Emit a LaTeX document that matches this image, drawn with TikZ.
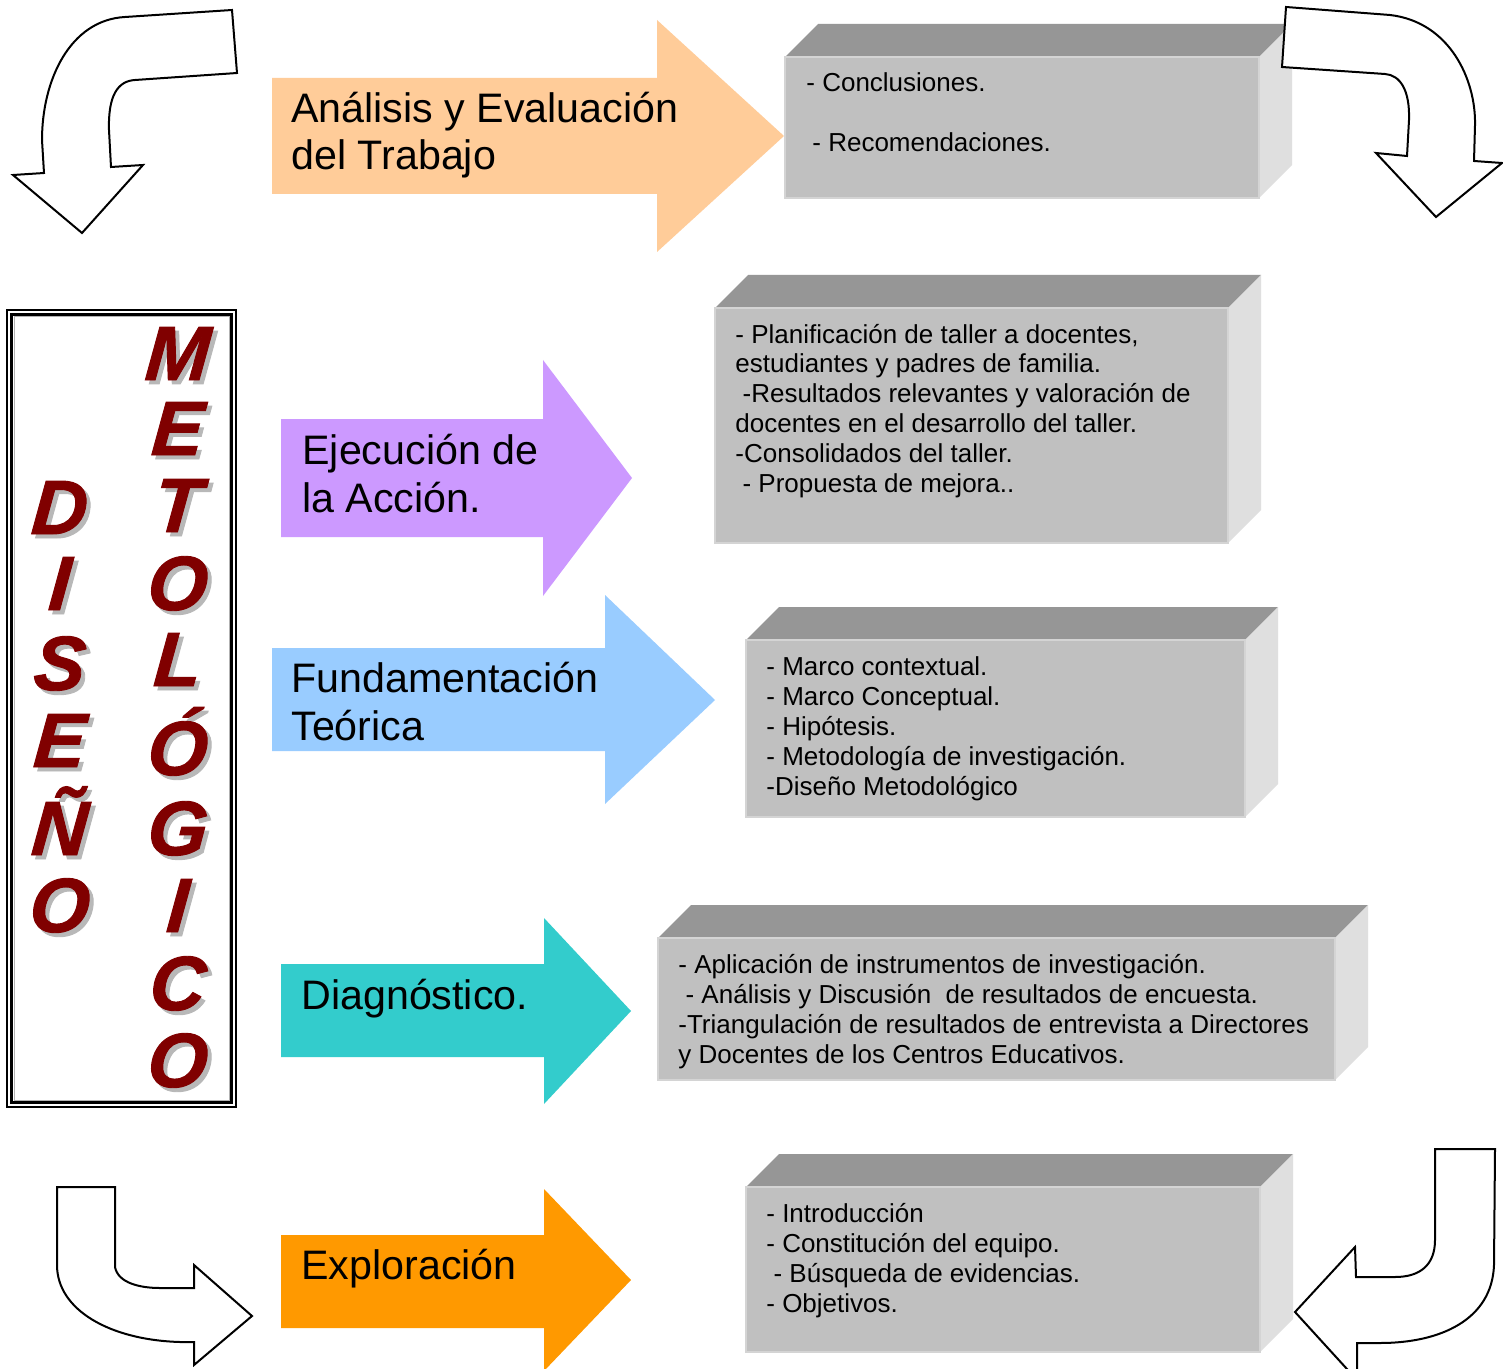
\documentclass[tikz,border=0pt]{standalone}
\usepackage{fontspec}
\setmainfont{Liberation Sans}
\newfontfamily\blackfont[BoldItalicFeatures={FakeBold=1.2,FakeSlant=0.08}]{Liberation Sans}
\definecolor{cPeach}{HTML}{FFCC99}
\definecolor{cViolet}{HTML}{CC99FF}
\definecolor{cBlue}{HTML}{99CCFF}
\definecolor{cTeal}{HTML}{33CCCC}
\definecolor{cOrange}{HTML}{FF9900}
\definecolor{cFront}{HTML}{C0C0C0}
\definecolor{cTop}{HTML}{969696}
\definecolor{cSide}{HTML}{DFDFDF}
\definecolor{cEdge}{HTML}{D4D4D4}
\definecolor{cLetter}{HTML}{800000}
\definecolor{cShadow}{HTML}{B8B8B8}
% \cubebox{x1}{y1}{x2}{y2}{depth}
\newcommand{\cubebox}[5]{%
  \fill[cTop] (#1,#2) -- (#1+#5,#2-#5) -- (#3+#5,#2-#5) -- (#3,#2) -- cycle;
  \fill[cSide] (#3,#2) -- (#3+#5,#2-#5) -- (#3+#5,#4-#5) -- (#3,#4) -- cycle;
  \filldraw[fill=cFront,draw=cEdge,line width=0.8pt] (#1,#2) rectangle (#3,#4);
}
\tikzset{
  biglabel/.style={anchor=base west,inner sep=0pt,align=left,font=\fontsize{20.6}{23.6}\selectfont},
  boxtext/.style={anchor=base west,inner sep=0pt,align=left,font=\fontsize{13}{14.9}\selectfont},
  curvearrow/.style={draw=black,fill=white,line width=1pt,line join=miter},
  lettershadow/.style={anchor=base,inner sep=0pt,text=cShadow,font=\fontsize{38.5}{40}\selectfont\blackfont\bfseries\itshape},
  letterfront/.style={anchor=base,inner sep=0pt,text=cLetter,font=\fontsize{38.5}{40}\selectfont\blackfont\bfseries\itshape},
}
\newcommand{\bigletter}[4]{%
  \node[lettershadow] (#1s) at (#2+4,#3+4) {#4};
  \node[letterfront] (#1) at (#2,#3) {#4};
}
\begin{document}
\begin{tikzpicture}[x=0.5pt,y=-0.5pt]
\useasboundingbox (0,0) rectangle (1503,1369);
\fill[white] (0,0) rectangle (1503,1369);

% ---------- block arrows ----------
\fill[cPeach] (272,78) -- (657,78) -- (657,20) -- (784,136) -- (657,252) -- (657,194) -- (272,194) -- cycle;
\fill[cViolet] (281,419) -- (543,419) -- (543,360) -- (632,478) -- (543,596) -- (543,537) -- (281,537) -- cycle;
\fill[cBlue] (272,648) -- (605,648) -- (605,595) -- (715,700) -- (605,804) -- (605,751) -- (272,751) -- cycle;
\fill[cTeal] (281,964) -- (544,964) -- (544,918) -- (631,1011) -- (544,1104) -- (544,1057) -- (281,1057) -- cycle;
\fill[cOrange] (281,1235) -- (544,1235) -- (544,1189) -- (631,1280) -- (544,1371) -- (544,1328) -- (281,1328) -- cycle;

% (multi-line nodes: base = baseline of last line)
\node[biglabel] (lab1) at (291,170) {Análisis y Evaluación\\del Trabajo};
\node[biglabel] (lab2) at (302,512) {Ejecución de\\la Acción.};
\node[biglabel] (lab3) at (291,740) {Fundamentación\\Teórica};
\node[biglabel] (lab4) at (301,1009) {Diagnóstico.};
\node[biglabel] (lab5) at (301,1279) {Exploración};

% ---------- 3D boxes ----------
\cubebox{785}{57}{1259}{198}{33}
\cubebox{715}{308}{1228}{543}{33}
\cubebox{746}{640}{1245}{817}{33}
\cubebox{658}{938}{1335}{1080}{33}
\cubebox{746}{1187}{1260}{1352}{33}

\node[boxtext] (t1a) at (806,92) {- Conclusiones.};
\node[boxtext] (t1b) at (812,152) {- Recomendaciones.};
\node[boxtext] (t2) at (735,492) {- Planificación de taller a docentes,\\estudiantes y padres de familia.\\\hspace*{0.278em}-Resultados relevantes y valoración de\\docentes en el desarrollo del taller.\\-Consolidados del taller.\\\hspace*{0.278em}- Propuesta de mejora..};
\node[boxtext] (t3) at (766,795) {- Marco contextual.\\- Marco Conceptual.\\- Hipótesis.\\- Metodología de investigación.\\-Diseño Metodológico};
\node[boxtext] (t4) at (678,1063) {- Aplicación de instrumentos de investigación.\\\hspace*{0.278em}- Análisis y Discusión\ \ de resultados de encuesta.\\-Triangulación de resultados de entrevista a Directores\\y Docentes de los Centros Educativos.};
\node[boxtext] (t5) at (766,1312) {- Introducción\\- Constitución del equipo.\\\hspace*{0.278em}- Búsqueda de evidencias.\\- Objetivos.};

% ---------- frame with vertical title ----------
\draw[black,line width=1pt] (7,310) rectangle (236,1107);
\draw[black,line width=1.5pt] (11.5,314.5) rectangle (231.5,1102.5);
\draw[gray!60,line width=0.5pt] (14,317) rectangle (229,1100);

\bigletter{m1}{176}{380}{M}
\bigletter{m2}{176}{455}{E}
\bigletter{m3}{176}{532}{T}
\bigletter{m4}{176}{610}{O}
\bigletter{m5}{176}{686}{L}
\bigletter{m6}{176}{775}{Ó}
\bigletter{m7}{176}{855}{G}
\bigletter{m8}{176}{932}{I}
\bigletter{m9}{176}{1010}{C}
\bigletter{m10}{176}{1087}{O}

\bigletter{d1}{58}{534}{D}
\bigletter{d2}{58}{610}{I}
\bigletter{d3}{58}{690}{S}
\bigletter{d4}{58}{767}{E}
\bigletter{d5}{58}{855}{Ñ}
\bigletter{d6}{58}{932}{O}

% ---------- curved outline arrows ----------
\draw[curvearrow] (232,10) -- (125,17) .. controls (70,20) and (42,80) .. (42,140) -- (44,173) -- (13,175) -- (82,233) -- (143,165) -- (111,167) -- (109,130) .. controls (108,95) and (118,81) .. (135,80) -- (237,73) -- cycle;

\draw[curvearrow] (1286,7) -- (1390,15) .. controls (1450,22) and (1476,80) .. (1475,125) -- (1474,161) -- (1502,163) -- (1436,217) -- (1376,153) -- (1407,156) -- (1409,120) .. controls (1410,90) and (1400,75) .. (1385,74) -- (1282,67) -- cycle;

\draw[curvearrow] (57,1187) -- (115,1187) -- (115,1267) .. controls (118,1283) and (140,1288) .. (160,1288) -- (194,1288) -- (194,1265) -- (252,1316) -- (194,1365) -- (194,1342) -- (180,1342) .. controls (110,1340) and (57,1310) .. (57,1265) -- cycle;

\draw[curvearrow] (1435,1149) -- (1495,1149) -- (1494,1265) .. controls (1492,1320) and (1440,1343) .. (1380,1343) -- (1357,1343) -- (1357,1380) -- (1295,1312) -- (1355,1247) -- (1356,1277) -- (1395,1277) .. controls (1420,1277) and (1435,1265) .. (1435,1240) -- cycle;
\end{tikzpicture}
\end{document}
